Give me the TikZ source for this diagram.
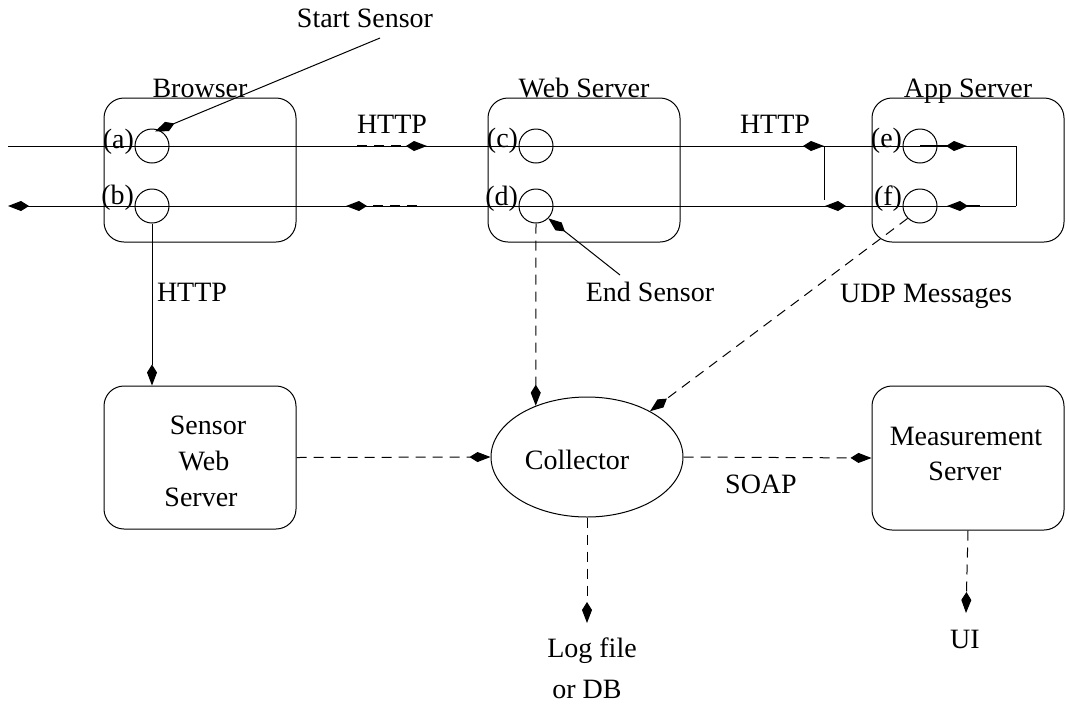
\documentclass[tikz,border=0pt]{standalone}
\usepackage{fontspec}
\setmainfont{Liberation Serif}
\usetikzlibrary{arrows.meta,shapes.geometric}
\begin{document}
\begin{tikzpicture}[x=1pt,y=-1pt,
  font=\fontsize{28}{32}\selectfont,
  line width=1pt,
  arr/.style={-{Kite[length=21pt,width=10pt,inset=8pt]}},
  dsh/.style={dash pattern=on 10pt off 7pt},
  box/.style={draw, rounded corners=20pt, minimum width=192pt,
              minimum height=144pt, inner sep=0pt},
  port/.style={draw, circle, minimum size=34pt, inner sep=0pt},
  lbl/.style={inner sep=0pt, anchor=base}
]
\useasboundingbox (0,0) rectangle (1066,705);

% servers along the request path
\node[box] (browser) at (200,170) {};
\node[box] (web)     at (584,170) {};
\node[box] (app)     at (968,170) {};
\node[lbl] at (200,97) {Browser};
\node[lbl] at (584,97) {Web Server};
\node[lbl] at (968,97) {App Server};

% measurement infrastructure
\node[box, minimum height=143pt] (sws) at (200,457.5) {};
\node[lbl] at (208,434) {Sensor};
\node[lbl] at (204,470) {Web};
\node[lbl] at (201,506) {Server};

\node[draw, ellipse, minimum width=192pt, minimum height=120pt, inner sep=0pt] (coll) at (587,457) {};
\node[lbl] at (577,469) {Collector};

\node[box] (meas) at (968,458) {};
\node[lbl] at (966,445) {Measurement};
\node[lbl] at (965,480) {Server};

% sensor points
\node[port] (a) at (152,146) {};
\node[port] (b) at (152,206) {};
\node[port] (c) at (536,146) {};
\node[port] (d) at (536,206) {};
\node[port] (e) at (920,146) {};
\node[port] (f) at (920,206) {};
\node[inner sep=0pt, anchor=base east] at ([yshift=-2pt]a.west) {(a)};
\node[inner sep=0pt, anchor=base east] at ([yshift=2pt]b.west) {(b)};
\node[inner sep=0pt, anchor=base east] at ([yshift=-1pt]c.west) {(c)};
\node[inner sep=0pt, anchor=base east] at ([yshift=1pt]d.west) {(d)};
\node[inner sep=0pt, anchor=base east] at ([yshift=-1pt]e.west) {(e)};
\node[inner sep=0pt, anchor=base east] at ([yshift=1pt]f.west) {(f)};

% request / response loop
\coordinate (inL)  at (8,146);
\coordinate (outL) at (8,206);
\coordinate (rtop) at (1016,146);
\coordinate (rbot) at (1016,206);
\coordinate (jtop) at (824,146);
\coordinate (jbot) at (824,200);
\draw (inL) -- (rtop) -- (rbot);
\draw[arr] (rbot) -- (outL);
\draw (jtop) -- (jbot);

\coordinate (h1s) at (357,146);
\coordinate (h1t) at (427,146);
\coordinate (h2s) at (800,146);
\coordinate (etip) at (967,146);
\coordinate (fs) at (980,206);
\coordinate (ftip) at (947,206);
\coordinate (h3s) at (850,206);
\coordinate (h3t) at (825,206);
\coordinate (h4s) at (417,206);
\coordinate (h4t) at (346,206);
\draw[dsh,arr,line width=1.6pt] (h1s) -- (h1t);
\draw[arr] (h2s) -- (jtop);
\draw[arr,line width=1.5pt] (e.center) -- (etip);
\draw[arr,line width=1.5pt] (fs) -- (ftip);
\draw[arr] (h3s) -- (h3t);
\draw[dsh,arr,line width=1.6pt] (h4s) -- (h4t);

\node[lbl] at (392,133) {HTTP};
\node[lbl] at (775,133) {HTTP};

% sensor annotations
\coordinate (ss) at (380,38);
\node[lbl] at (365,27) {Start Sensor};
\draw[arr] (ss) -- ([xshift=3pt,yshift=-3pt]a.north);
\coordinate (es) at (620,275);
\node[lbl] at (650,301) {End Sensor};
\draw[arr] (es) -- (d.south east);

% data flows
\draw[arr] (b.south) -- (b.south |- sws.north);
\node[lbl] at (192,301) {HTTP};
\draw[dsh,arr] (d.south) -- (coll.135);
\draw[dsh,arr] (f.225) -- (coll.36);
\node[lbl] at (926,302) {UDP Messages};
\draw[dsh,arr] (sws.east) -- (coll.west);
\draw[dsh,arr] (coll.east) -- (meas.west);
\node[lbl] at (761,493) {SOAP};

\coordinate (logtip) at (587,623);
\draw[dsh,arr] (coll.south) -- (logtip);
\node[lbl] at (592,657) {Log file};
\node[lbl] at (587,698) {or DB};

\coordinate (uitip) at (966,613);
\draw[dsh,arr] (meas.south) -- (uitip);
\node[lbl] at (965,648) {UI};
\end{tikzpicture}
\end{document}
